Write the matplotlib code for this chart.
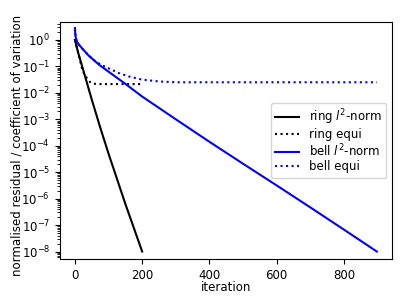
import matplotlib
matplotlib.use('Agg')
import matplotlib.pyplot as plt
from matplotlib.ticker import LogLocator
import numpy as np

# log10 of the values
ring_it = [0, 10, 25, 50, 75, 100, 125, 150, 175, 200]
ring_l2 = [0.0, -0.5, -1.15, -2.25, -3.3, -4.3, -5.25, -6.2, -7.1, -8.0]

ring_eq_it = [0, 10, 22, 30, 40, 47, 60, 70, 100, 150, 200]
ring_eq = [0.0, -0.5, -1.13, -1.35, -1.52, -1.62, -1.66, -1.67, -1.67, -1.67, -1.67]

bell_it = [0, 1, 2, 5, 10, 20, 40, 70, 100, 150, 200, 300, 400, 500, 600, 700, 800, 898]
bell_l2 = [0.45, 0.25, 0.12, -0.03, -0.15, -0.3, -0.58, -0.92, -1.2, -1.66, -2.14,
           -3.0, -3.85, -4.68, -5.5, -6.33, -7.17, -8.0]

bell_eq_it = [0, 1, 2, 5, 10, 20, 40, 60, 80, 100, 130, 160, 200, 250, 300, 500, 700, 898]
bell_eq = [0.45, 0.25, 0.12, -0.03, -0.15, -0.3, -0.58, -0.8, -0.95, -1.07, -1.25, -1.38,
           -1.5, -1.57, -1.6, -1.6, -1.6, -1.6]

plt.rcParams['font.size'] = 8.5

fig = plt.figure(figsize=(4.07, 3.05), dpi=100)
ax = fig.add_subplot(111)

ax.semilogy(ring_it, 10 ** np.array(ring_l2), 'k-', label=r'ring $l^2$-norm')
ax.semilogy(ring_eq_it, 10 ** np.array(ring_eq), 'k:', label='ring equi')
ax.semilogy(bell_it, 10 ** np.array(bell_l2), 'b-', label=r'bell $l^2$-norm')
ax.semilogy(bell_eq_it, 10 ** np.array(bell_eq), 'b:', label='bell equi')

ax.set_ylim(10 ** -8.28, 10 ** 0.68)
ax.yaxis.set_major_locator(LogLocator(base=10, numticks=20))
ax.set_xlabel('iteration')
ax.set_ylabel('normalised residual / coefficient of variation')
ax.xaxis.set_label_coords(0.5, -0.093)
ax.yaxis.set_label_coords(-0.11, 0.479)
ax.legend(loc='center right', labelspacing=0.1)

fig.subplots_adjust(left=0.147, right=0.963, top=0.928, bottom=0.151)
fig.savefig('out.png')
